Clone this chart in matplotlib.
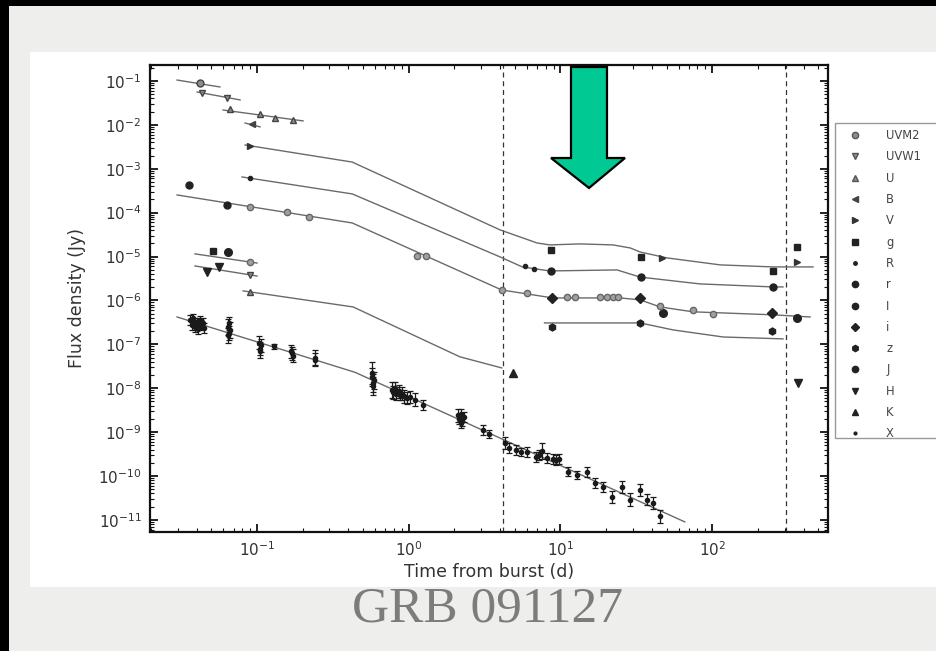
import numpy as np
import matplotlib
matplotlib.use("Agg")
import matplotlib.pyplot as plt
from matplotlib.patches import Rectangle, Polygon
from matplotlib.ticker import LogLocator, NullFormatter
from matplotlib.lines import Line2D

# ---------------- data ----------------
break_times = [4.2, 307]

# photometric points per band (time in days, flux density in Jy)
uvm2_t = [0.0422]; uvm2_f = [0.09]
uvw1_t = [0.0435, 0.0635, 0.09]; uvw1_f = [0.053, 0.041, 3.8e-6]
u_t = [0.0664, 0.1047, 0.131, 0.172, 0.09]; u_f = [0.023, 0.0177, 0.0144, 0.0129, 1.56e-6]
b_t = [0.0927]; b_f = [0.0105]
v_t = [0.09, 46.8, 363]; v_f = [3.3e-3, 9.3e-6, 7.5e-6]
g_t = [0.0514, 8.6, 34.0, 252, 363]; g_f = [1.34e-5, 1.41e-5, 9.8e-6, 4.7e-6, 1.66e-5]
R_t = [0.09, 5.8, 6.74]; R_f = [6.2e-4, 6.1e-6, 5.2e-6]
r_t = [0.0356, 0.0635, 8.6, 34.0, 252]; r_f = [4.27e-4, 1.5e-4, 4.7e-6, 3.4e-6, 2.03e-6]
I_t = [47.5, 363]; I_f = [5.2e-7, 4.0e-7]
i_t = [8.86, 33.5, 248]; i_f = [1.14e-6, 1.14e-6, 5.2e-7]
z_t = [8.73, 33.5, 248]; z_f = [2.49e-7, 3.07e-7, 2.0e-7]
J_t = [0.0645]; J_f = [1.27e-5]
H_t = [0.0469, 0.0562, 368]; H_f = [4.46e-6, 5.8e-6, 1.32e-8]
K_t = [4.83]; K_f = [2.23e-8]

# additional grey (open-ish) optical points
grey_t = [0.09, 0.157, 0.22, 0.09, 1.13, 1.29, 4.1, 5.98, 11.1, 12.5, 18.2, 20.3,
          22.2, 24.0, 45.4, 74.8, 101]
grey_f = [1.35e-4, 1.04e-4, 7.98e-5, 7.5e-6, 1.03e-5, 1.03e-5, 1.73e-6, 1.48e-6,
          1.2e-6, 1.2e-6, 1.2e-6, 1.2e-6, 1.2e-6, 1.2e-6, 7.5e-7, 6.1e-7, 4.9e-7]

# X-ray light curve
xray_t = [0.036, 0.037, 0.038, 0.039, 0.039, 0.040, 0.041, 0.041, 0.042, 0.043, 0.044, 0.045,
          0.064, 0.064, 0.065, 0.065, 0.066,
          0.103, 0.104, 0.105, 0.107,
          0.130,
          0.168, 0.170, 0.172,
          0.240, 0.242,
          0.570, 0.575, 0.580, 0.585, 0.590,
          0.77, 0.79, 0.81, 0.83, 0.86, 0.88, 0.90, 0.93, 0.98, 1.02, 1.10,
          1.25,
          2.10, 2.15, 2.20, 2.20, 2.25, 2.30,
          3.07, 3.4, 4.3, 4.6, 5.1, 5.5, 6.0, 6.95, 7.2, 7.6, 8.2, 8.9, 9.3, 9.8,
          11.2, 12.9, 15.0, 16.9, 19.1, 21.9, 25.5, 28.8, 33.5, 37.2, 40.7, 45.4]
xray_f = [3.5e-7, 2.8e-7, 4.0e-7, 2.5e-7, 3.0e-7, 3.2e-7, 2.2e-7, 2.8e-7, 3.6e-7, 2.7e-7, 3.0e-7, 2.4e-7,
          2.5e-7, 1.6e-7, 1.8e-7, 3.0e-7, 2.1e-7,
          1.1e-7, 7e-8, 8e-8, 9.5e-8,
          9e-8,
          7e-8, 6.2e-8, 5.5e-8,
          5e-8, 4.5e-8,
          2.2e-8, 1.8e-8, 1.3e-8, 1.1e-8, 1.5e-8,
          9e-9, 8e-9, 1e-8, 7.5e-9, 8.5e-9, 7e-9, 7.5e-9, 6.5e-9, 6e-9, 6.3e-9, 5.5e-9,
          4.2e-9,
          2.4e-9, 2.0e-9, 2.6e-9, 1.6e-9, 1.8e-9, 2.2e-9,
          1.1e-9, 9e-10, 5.7e-10, 4.4e-10, 3.9e-10, 3.5e-10, 3.5e-10, 2.7e-10, 3.0e-10, 3.7e-10,
          2.6e-10, 2.5e-10, 2.3e-10, 2.4e-10,
          1.25e-10, 1.06e-10, 1.24e-10, 7e-11, 5.6e-11, 3.3e-11, 5.6e-11, 2.9e-11, 4.8e-11,
          2.9e-11, 2.4e-11, 1.2e-11]
# multiplicative 1-sigma error factor of each X-ray point
xray_err = [1.3, 1.3, 1.25, 1.3, 1.3, 1.25, 1.3, 1.3, 1.25, 1.3, 1.3, 1.3,
            1.5, 1.5, 1.45, 1.4, 1.5,
            1.4, 1.4, 1.4, 1.4,
            1.15,
            1.4, 1.4, 1.4,
            1.45, 1.4,
            1.8, 1.6, 1.6, 1.6, 1.6,
            1.5, 1.4, 1.4, 1.4, 1.4, 1.3, 1.4, 1.4, 1.35, 1.4, 1.4,
            1.3,
            1.4, 1.3, 1.3, 1.3, 1.3, 1.3,
            1.3, 1.25, 1.35, 1.3, 1.3, 1.25, 1.3, 1.3, 1.3, 1.5, 1.3, 1.3, 1.3, 1.3,
            1.25, 1.25, 1.3, 1.3, 1.3, 1.35, 1.35, 1.4, 1.35, 1.35, 1.35, 1.4]

# model light curves
modelA_t = [0.0834, 0.424, 4.0, 7.0, 8.5, 13.5, 22.2, 28.8, 33.5, 50.4, 113, 252, 462]
modelA_f = [3.48e-3, 1.42e-3, 4.04e-5, 2.04e-5, 1.84e-5, 1.94e-5, 1.84e-5, 1.57e-5, 1.27e-5,
            9.3e-6, 6.45e-6, 5.8e-6, 5.8e-6]
modelB_t = [0.0796, 0.424, 4.0, 5.6, 8.5, 23.6, 33.5, 83, 252, 293]
modelB_f = [6.5e-4, 2.67e-4, 9.8e-6, 5.8e-6, 4.7e-6, 4.95e-6, 3.4e-6, 2.38e-6, 2.03e-6, 2.03e-6]
modelC_t = [0.0297, 0.424, 4.1, 8.9, 24.7, 33.5, 45.4, 74.8, 252, 442]
modelC_f = [2.53e-4, 5.82e-5, 1.73e-6, 1.14e-6, 1.14e-6, 1.03e-6, 7.1e-7, 5.5e-7, 4.7e-7, 4.2e-7]
modelD_t = [7.85, 33.5, 55.2, 118, 293]
modelD_f = [3.07e-7, 3.07e-7, 2.13e-7, 1.47e-7, 1.33e-7]
modelE_t = [0.0809, 0.43, 2.17, 4.1]
modelE_f = [1.65e-6, 7.1e-7, 5.2e-8, 2.9e-8]
modelX_t = [0.0297, 0.443, 66]
modelX_f = [4.2e-7, 2.3e-8, 9e-12]
# short early-time fit segments
segs_t = [[0.0297, 0.0569], [0.0403, 0.0773], [0.0597, 0.201], [0.0834, 0.1047],
          [0.039, 0.1], [0.039, 0.1]]
segs_f = [[0.105, 0.073], [0.056, 0.037], [0.0218, 0.0123], [0.011, 0.009],
          [1.15e-5, 7.1e-6], [6.1e-6, 3.6e-6]]

legend_labels = ["UVM2", "UVW1", "U", "B", "V", "g", "R", "r", "I", "i", "z", "J", "H", "K", "X"]

# ---------------- figure ----------------
W, H = 936, 651
fig = plt.figure(figsize=(W / 100, H / 100), dpi=100, facecolor="#eeeeec")

def fx(px):
    return px / W

def fy(py):
    return 1 - py / H

# slide decoration
fig.add_artist(Rectangle((0, fy(6)), 1, 6 / H, transform=fig.transFigure,
                         facecolor="black", edgecolor="none", zorder=0))
fig.add_artist(Rectangle((0, 0), 9 / W, 1, transform=fig.transFigure,
                         facecolor="black", edgecolor="none", zorder=0))
fig.add_artist(Rectangle((fx(30), fy(587)), 1, (587 - 52) / H, transform=fig.transFigure,
                         facecolor="white", edgecolor="none", zorder=0))
# legend frame (runs off the right edge like the original)
fig.add_artist(Rectangle((fx(835), fy(438)), 0.2, (438 - 123) / H, transform=fig.transFigure,
                         facecolor="white", edgecolor="#999999", lw=1.0, zorder=0.5))

ax = fig.add_axes([fx(150), fy(532), (828 - 150) / W, (532 - 65) / H])
ax.set_zorder(1)
ax.set_xscale("log")
ax.set_yscale("log")
ax.set_xlim(0.0197, 580)
ax.set_ylim(5.3e-12, 0.231)

grey_line = "#6a6a6a"
for t, f in [(modelA_t, modelA_f), (modelB_t, modelB_f), (modelC_t, modelC_f),
             (modelD_t, modelD_f), (modelE_t, modelE_f), (modelX_t, modelX_f)]:
    ax.plot(t, f, color=grey_line, lw=1.0, zorder=2)
for t, f in zip(segs_t, segs_f):
    ax.plot(t, f, color=grey_line, lw=1.0, zorder=2)

for bt in break_times:
    ax.axvline(bt, color="#333333", lw=0.9, ls=(0, (4, 3)), zorder=1)

lg = "#8c8c8c"
dk = "#222222"
series = [
    (uvm2_t, uvm2_f, "o", lg, 5),
    (uvw1_t, uvw1_f, "v", lg, 5),
    (u_t, u_f, "^", lg, 5),
    (b_t, b_f, "<", "#444444", 5),
    (v_t, v_f, ">", "#333333", 5),
    (g_t, g_f, "s", dk, 5),
    (R_t, R_f, "o", dk, 3),
    (r_t, r_f, "o", dk, 5),
    (I_t, I_f, "o", dk, 5.5),
    (i_t, i_f, "D", dk, 5.5),
    (z_t, z_f, "h", dk, 5),
    (J_t, J_f, "o", dk, 5.5),
    (H_t, H_f, "v", dk, 5.5),
    (K_t, K_f, "^", dk, 5.5),
]
handles = []
for (t, f, m, c, s), lab in zip(series, legend_labels[:-1]):
    ax.plot(t, f, ls="none", marker=m, color=c, mec="#444444" if c == lg else c,
            ms=s, zorder=4)
    handles.append(Line2D([], [], ls="none", marker=m, color=c,
                          mec="#555555" if c == lg else c, ms=4.5 if s > 3 else 2.5,
                          label=lab))

ax.plot(grey_t, grey_f, ls="none", marker="o", color="#a0a0a0", mec="#666666",
        ms=4.5, zorder=4)

xf = np.array(xray_f)
xe = np.array(xray_err)
ax.errorbar(xray_t, xf, yerr=[xf - xf / xe, xf * xe - xf], fmt="o", ms=3,
            color="#1a1a1a", ecolor="#1a1a1a", elinewidth=0.9, capsize=2.2,
            capthick=0.9, zorder=3)
handles.append(Line2D([], [], ls="none", marker="o", color=dk, ms=2, label="X"))

# axes styling
for sp in ax.spines.values():
    sp.set_linewidth(1.6)
    sp.set_color("#111111")
ax.xaxis.set_major_locator(LogLocator(base=10, numticks=30))
ax.yaxis.set_major_locator(LogLocator(base=10, numticks=30))
ax.xaxis.set_minor_locator(LogLocator(base=10, subs=np.arange(2, 10), numticks=60))
ax.yaxis.set_minor_locator(LogLocator(base=10, subs=np.arange(2, 10), numticks=200))
ax.xaxis.set_minor_formatter(NullFormatter())
ax.yaxis.set_minor_formatter(NullFormatter())
ax.tick_params(which="both", direction="in", top=True, right=True,
               labelsize=11, labelcolor="#333333", color="#111111")
ax.tick_params(which="major", length=6, width=1.3, pad=6)
ax.tick_params(which="minor", length=3, width=0.8)

ax.set_xlabel("Time from burst (d)", fontsize=12.5, color="#333333")
ax.set_ylabel("Flux density (Jy)", fontsize=12.5, color="#333333")
ax.xaxis.set_label_coords(0.5, -0.066)
ax.yaxis.set_label_coords(-0.094, 0.5)

leg = ax.legend(handles=handles, loc="upper left", bbox_to_anchor=(fx(836), fy(124)),
                bbox_transform=fig.transFigure, frameon=False,
                fontsize=8.3, labelspacing=0.72, handlelength=2.4,
                handletextpad=1.5, borderpad=0.45, borderaxespad=0, numpoints=1)
for txt in leg.get_texts():
    txt.set_color("#444444")

# green arrow
arrow_px = [(571, 67), (607, 67), (607, 158), (625, 158), (589, 188), (551, 158), (571, 158)]
fig.add_artist(Polygon([(fx(x), fy(y)) for x, y in arrow_px], closed=True,
                       transform=fig.transFigure, facecolor="#00c994",
                       edgecolor="black", lw=1.6, zorder=10))

fig.text(fx(487), fy(609), "GRB 091127", ha="center", va="center",
         fontfamily="Liberation Serif", fontsize=37, color="#7c7c7c")

fig.savefig("out.png", dpi=100, facecolor=fig.get_facecolor())
